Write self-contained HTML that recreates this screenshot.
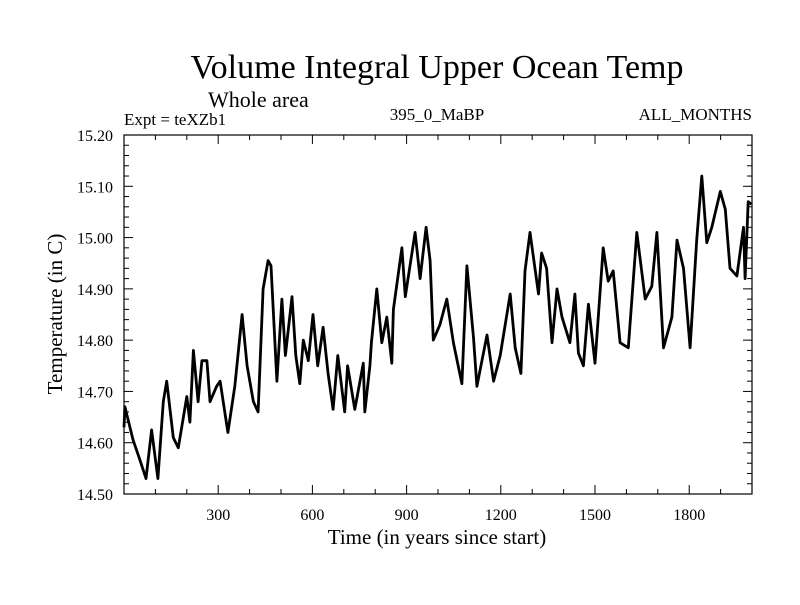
<!DOCTYPE html>
<html><head><meta charset="utf-8"><style>
body{margin:0;background:#fff;}
svg text{font-family:"Liberation Serif",serif;fill:#000;}
</style></head><body>
<svg id="c" width="800" height="600">
<text x="437" y="78" font-size="34" text-anchor="middle">Volume Integral Upper Ocean Temp</text>
<text x="208" y="107" font-size="22">Whole area</text>
<text x="124" y="125" font-size="17">Expt = teXZb1</text>
<text x="437" y="120" font-size="17" text-anchor="middle">395_0_MaBP</text>
<text x="752" y="120" font-size="17" text-anchor="end">ALL_MONTHS</text>
<text x="437" y="544" font-size="21" text-anchor="middle">Time (in years since start)</text>
<text transform="translate(62,314) rotate(-90)" font-size="21" text-anchor="middle">Temperature (in C)</text>
<g id="axes"></g>
<path id="line" fill="none" stroke="#000" stroke-width="2.8" stroke-linejoin="round"/>
<rect x="124" y="135" width="628" height="359" fill="none" stroke="#000" stroke-width="1.2"/>
</svg>
<script>
const years=[0,3,29,51,70,88,108,125,136,157,173,200,210,221,236,248,264,274,295,306,331,353,376,392,412,427,443,459,468,487,503,514,535,547,560,571,587,602,617,634,650,666,681,703,712,735,762,767,783,788,805,821,837,853,858,885,896,927,943,962,975,985,1006,1028,1049,1076,1092,1113,1124,1156,1177,1198,1230,1246,1264,1277,1293,1320,1330,1346,1363,1379,1395,1420,1436,1447,1463,1479,1500,1526,1542,1558,1580,1606,1633,1660,1681,1697,1718,1745,1761,1782,1803,1824,1840,1856,1872,1899,1915,1930,1952,1973,1978,1988,1998];
const temps=[14.63,14.67,14.605,14.566,14.53,14.625,14.53,14.68,14.72,14.61,14.59,14.69,14.64,14.78,14.68,14.76,14.76,14.68,14.71,14.72,14.62,14.71,14.85,14.75,14.68,14.66,14.90,14.955,14.945,14.72,14.88,14.77,14.885,14.77,14.715,14.80,14.76,14.85,14.75,14.825,14.735,14.665,14.77,14.66,14.75,14.665,14.755,14.66,14.75,14.795,14.90,14.795,14.845,14.755,14.86,14.98,14.885,15.01,14.92,15.02,14.955,14.80,14.83,14.88,14.795,14.715,14.945,14.805,14.71,14.81,14.72,14.77,14.89,14.785,14.735,14.935,15.01,14.89,14.97,14.94,14.795,14.90,14.845,14.795,14.89,14.775,14.75,14.87,14.755,14.98,14.915,14.935,14.795,14.785,15.01,14.88,14.905,15.01,14.785,14.845,14.995,14.94,14.785,14.995,15.12,14.99,15.02,15.09,15.055,14.94,14.925,15.02,14.92,15.07,15.065];
const xTicks=[300,600,900,1200,1500,1800];
const yTicks=[14.5,14.6,14.7,14.8,14.9,15.0,15.1,15.2];
const yLabels=["14.50","14.60","14.70","14.80","14.90","15.00","15.10","15.20"];
const L=124,R=752,T=135,B=494;
const xs=v=>L+(v-0)/2000*(R-L);
const ys=v=>B-(v-14.5)/0.7*(B-T);
const ns="http://www.w3.org/2000/svg";
const g=document.getElementById('axes');
function ln(x1,y1,x2,y2,name){const e=document.createElementNS(ns,'line');e.setAttribute('x1',x1);e.setAttribute('y1',y1);e.setAttribute('x2',x2);e.setAttribute('y2',y2);e.setAttribute('stroke','#000');e.setAttribute('stroke-width','1');


g.appendChild(e);}
function tx(x,y,s,anchor,name){const e=document.createElementNS(ns,'text');e.setAttribute('x',x);e.setAttribute('y',y);e.setAttribute('font-size','16');e.setAttribute('text-anchor',anchor);e.textContent=s;


g.appendChild(e);}
for(let v=100;v<2000;v+=100){const x=xs(v);const maj=v%300===0;const len=maj?9:5;ln(x,B,x,B-len,'x-tick');ln(x,T,x,T+len,'x-tick-top');}
xTicks.forEach(v=>tx(xs(v),520,String(v),'middle','x-tick-label'));
for(let i=0;i<=35;i++){const v=14.5+i*0.02;const y=ys(v);const maj=i%5===0;const len=maj?9:5;ln(L,y,L+len,y,'y-tick');ln(R,y,R-len,y,'y-tick-right');}
yTicks.forEach((v,i)=>tx(113,ys(v)+6,yLabels[i],'end','y-tick-label'));
let d='';years.forEach((y,i)=>{d+=(i?'L':'M')+xs(y).toFixed(1)+' '+ys(temps[i]).toFixed(1);});
document.getElementById('line').setAttribute('d',d);
</script>
</body></html>
